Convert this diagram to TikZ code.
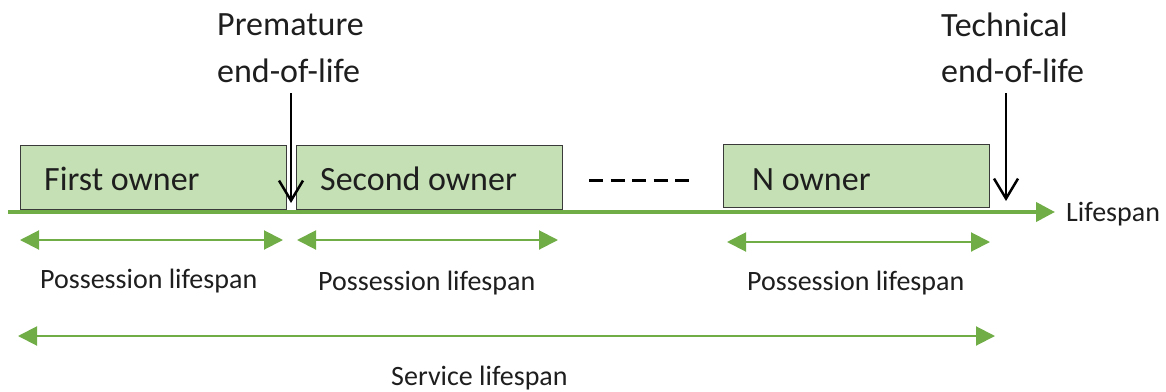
\documentclass[tikz,border=0pt]{standalone}
\usepackage{fontspec}
\setmainfont{Carlito}
\usetikzlibrary{arrows.meta}
\definecolor{ogreen}{HTML}{70AD47}
\definecolor{boxfill}{HTML}{C5E0B4}
\definecolor{boxline}{HTML}{3A3A3A}
\definecolor{txt}{HTML}{1E1E1E}
\tikzset{
  ownerbox/.style={draw=boxline, line width=1.4pt, fill=boxfill, inner sep=0pt, anchor=north west},
  bigtxt/.style={font=\fontsize{34}{41}\selectfont, text=txt, inner sep=0pt, anchor=base west},
  smalltxt/.style={font=\fontsize{28}{34}\selectfont, text=txt, inner sep=0pt, anchor=base west},
  axis/.style={draw=ogreen, line width=4pt, -{Triangle[length=19pt,width=19pt]}},
  span/.style={draw=ogreen, line width=2pt, {Triangle[length=19pt,width=19pt]}-{Triangle[length=19pt,width=19pt]}},
  eol/.style={draw=black, line width=2.5pt, -{Straight Barb[length=20pt,width=24pt,line width=2.5pt]}},
  dots/.style={draw=black, line width=3pt, dash pattern=on 14pt off 7.5pt}
}
\begin{document}
\begin{tikzpicture}[x=1pt,y=-1pt]
\useasboundingbox (0,0) rectangle (1166,391);
% boxes
\node[ownerbox, minimum width=266pt, minimum height=64pt] (b1) at (20,145) {};
\node[ownerbox, minimum width=266pt, minimum height=64pt] (b2) at (296,145) {};
\node[ownerbox, minimum width=266pt, minimum height=63pt] (b3) at (723,144) {};
\node[bigtxt] (t1) at (44,190) {First owner};
\node[bigtxt] (t2) at (320,190) {Second owner};
\node[bigtxt] (t3) at (752,190) {N owner};
% dashes
\coordinate (d1) at (589,180);
\coordinate (d2) at (689,180);
\draw[dots] (d1) -- (d2);
% axis
\coordinate (a1) at (8,212);
\coordinate (a2) at (1055,212);
\draw[axis] (a1) -- (a2);
\node[smalltxt] (life) at (1066,221) {Lifespan};
% end-of-life labels
\node[bigtxt] (p1) at (217,35) {Premature};
\node[bigtxt] (p2) at (217,82) {end-of-life};
\node[bigtxt] (q1) at (941,36) {Technical};
\node[bigtxt] (q2) at (941,82) {end-of-life};
\coordinate (ps) at (291,93);
\coordinate (pe) at (291,203);
\coordinate (qs) at (1006,93);
\coordinate (qe) at (1006,201);
\draw[eol] (ps) -- (pe);
\draw[eol] (qs) -- (qe);
% possession spans
\coordinate (s1a) at (20,240); \coordinate (s1b) at (283,240);
\coordinate (s2a) at (297,240); \coordinate (s2b) at (558,240);
\coordinate (s3a) at (727,242); \coordinate (s3b) at (990,242);
\draw[span] (s1a) -- (s1b);
\draw[span] (s2a) -- (s2b);
\draw[span] (s3a) -- (s3b);
\node[smalltxt] (l1) at (40,288) {Possession lifespan};
\node[smalltxt] (l2) at (318,290) {Possession lifespan};
\node[smalltxt] (l3) at (747,290) {Possession lifespan};
% service span
\coordinate (sa) at (18,336); \coordinate (sb) at (995,336);
\draw[span] (sa) -- (sb);
\node[smalltxt] (sl) at (391,385) {Service lifespan};
\end{tikzpicture}
\end{document}
